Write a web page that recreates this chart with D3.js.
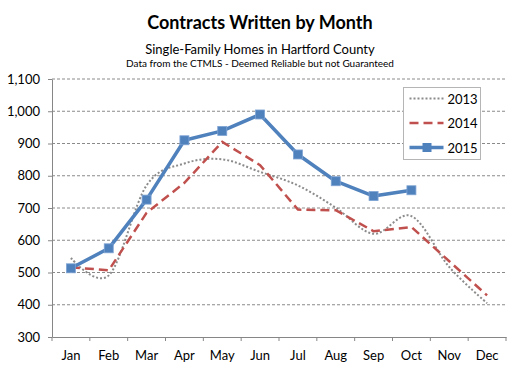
<!DOCTYPE html>
<html>
<head>
<meta charset="utf-8">
<script src="https://cdn.jsdelivr.net/npm/d3@7"></script>
<style>
  body { margin: 0; background: #fff; }
  svg { font-family: Lato, "Open Sans", sans-serif; }
</style>
</head>
<body>
<svg width="521" height="371"></svg>
<script>
var months = ["Jan", "Feb", "Mar", "Apr", "May", "Jun", "Jul", "Aug", "Sep", "Oct", "Nov", "Dec"];
var yTicks = [300, 400, 500, 600, 700, 800, 900, 1000, 1100];
var values2013 = [545, 491, 770, 838, 851, 812, 770, 701, 620, 675, 517, 405];
var values2014 = [516, 507, 685, 778, 905, 833, 695, 693, 628, 641, 535, 429];
var values2015 = [513, 575, 726, 910, 939, 990, 866, 783, 737, 755];

var width = 521;
var height = 371;
var margin = {top: 79, right: 15, bottom: 34, left: 52};

var svg = d3.select("svg");

var x = d3.scaleBand()
    .domain(months)
    .range([margin.left, width - margin.right]);

var y = d3.scaleLinear()
    .domain([300, 1100])
    .range([height - margin.bottom, margin.top]);

// titles
svg.append("text")
    .attr("x", 260).attr("y", 29)
    .attr("text-anchor", "middle")
    .style("font-size", "18px").style("font-weight", "bold")
    .text("Contracts Written by Month");
svg.append("text")
    .attr("x", 260).attr("y", 54)
    .attr("text-anchor", "middle")
    .style("font-size", "13px")
    .text("Single-Family Homes in Hartford County");
svg.append("text")
    .attr("x", 260).attr("y", 67)
    .attr("text-anchor", "middle")
    .style("font-size", "10px")
    .text("Data from the CTMLS - Deemed Reliable but not Guaranteed");

// gridlines
svg.append("g")
  .selectAll("line")
  .data(yTicks.filter(d => d > 300))
  .enter()
  .append("line")
    .attr("x1", margin.left)
    .attr("x2", width - margin.right)
    .attr("y1", d => y(d))
    .attr("y2", d => y(d))
    .attr("stroke", "#8a8a8a")
    .attr("stroke-dasharray", "3,2");

// y axis
var yAxis = svg.append("g")
    .attr("transform", "translate(" + margin.left + ",0)")
    .call(d3.axisLeft(y).tickValues(yTicks).tickSize(4).tickSizeOuter(0).tickFormat(d3.format(",")));
yAxis.select(".domain").attr("stroke", "#868686");
yAxis.selectAll(".tick line").attr("stroke", "#868686");
yAxis.selectAll(".tick text")
    .attr("x", -12)
    .style("font-size", "13px").style("font-family", "Lato, sans-serif").attr("fill", "#000");

// x axis
var xAxis = svg.append("g")
    .attr("transform", "translate(0," + y(300) + ")")
    .call(d3.axisBottom(x).tickSize(0).tickSizeOuter(0));
xAxis.select(".domain").attr("stroke", "#868686");
xAxis.selectAll(".tick text")
    .attr("y", 14)
    .style("font-size", "13px").style("font-family", "Lato, sans-serif").attr("fill", "#000");
svg.append("g")
  .selectAll("line")
  .data(months.concat(["end"]))
  .enter()
  .append("line")
    .attr("x1", (d, i) => margin.left + i * x.bandwidth())
    .attr("x2", (d, i) => margin.left + i * x.bandwidth())
    .attr("y1", y(300))
    .attr("y2", y(300) + 4)
    .attr("stroke", "#868686");

var cx = (d, i) => x(months[i]) + x.bandwidth() / 2;

var smooth = d3.line().x(cx).y(d => y(d)).curve(d3.curveCatmullRom.alpha(0));
var straight = d3.line().x(cx).y(d => y(d));

svg.append("path")
    .attr("d", smooth(values2013))
    .attr("fill", "none")
    .attr("stroke", "#8c8c8c")
    .attr("stroke-width", 2)
    .attr("stroke-dasharray", "2,2");

svg.append("path")
    .attr("d", straight(values2014))
    .attr("fill", "none")
    .attr("stroke", "#c0504d")
    .attr("stroke-width", 2.5)
    .attr("stroke-dasharray", "9,5");

svg.append("path")
    .attr("d", straight(values2015))
    .attr("fill", "none")
    .attr("stroke", "#4f81bd")
    .attr("stroke-width", 3.5)
    .attr("stroke-linejoin", "round");

svg.append("g")
  .selectAll("rect")
  .data(values2015)
  .enter()
  .append("rect")
    .attr("x", (d, i) => cx(d, i) - 4.5)
    .attr("y", d => y(d) - 4.5)
    .attr("width", 9)
    .attr("height", 9)
    .attr("fill", "#4f81bd")
    .attr("stroke", "#7ea3d3")
    .attr("stroke-width", 0.8);

// legend
var legend = svg.append("g").attr("transform", "translate(403.5,87.5)");
legend.append("rect")
    .attr("width", 77).attr("height", 72)
    .attr("fill", "#fff").attr("stroke", "#b5b5b5");

var legendItems = [
  {name: "2013", color: "#8c8c8c", width: 2, dash: "2,2"},
  {name: "2014", color: "#c0504d", width: 2.5, dash: "9,5"},
  {name: "2015", color: "#4f81bd", width: 3.5, dash: null}
];

var item = legend.selectAll(".item")
  .data(legendItems)
  .enter()
  .append("g")
    .attr("transform", (d, i) => "translate(0," + (11 + i * 24.5) + ")");

item.append("line")
    .attr("x1", 6).attr("x2", 40)
    .attr("stroke", d => d.color)
    .attr("stroke-width", d => d.width)
    .attr("stroke-dasharray", d => d.dash);

item.filter(d => d.name === "2015")
  .append("rect")
    .attr("x", 19).attr("y", -4.5).attr("width", 9).attr("height", 9)
    .attr("fill", "#4f81bd");

item.append("text")
    .attr("x", 44).attr("y", 5)
    .style("font-size", "13px")
    .text(d => d.name);
</script>
</body>
</html>
